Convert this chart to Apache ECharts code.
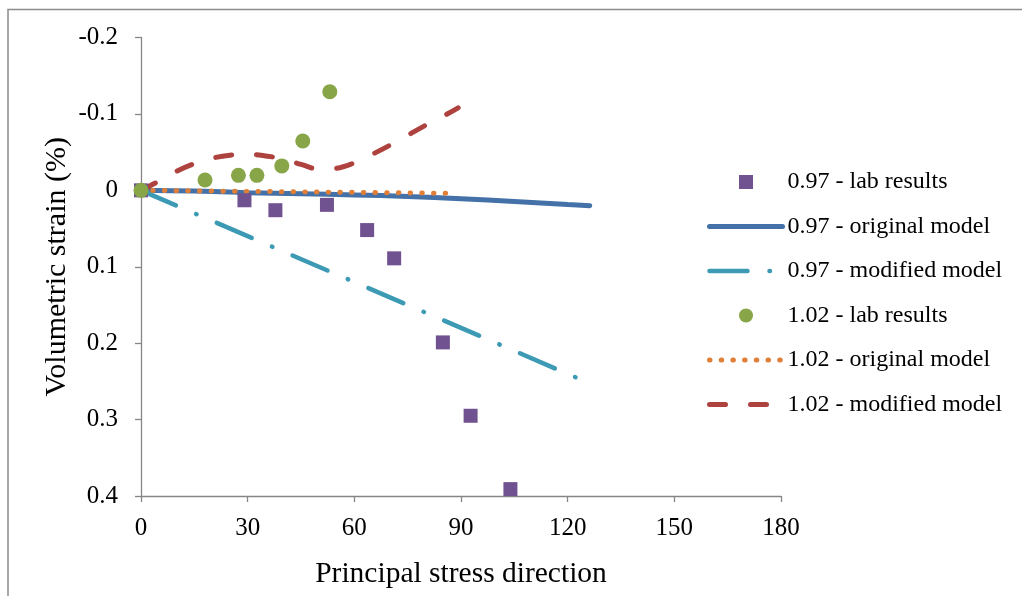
<!DOCTYPE html>
<html>
<head>
<meta charset="utf-8">
<script src="https://cdn.jsdelivr.net/npm/echarts@6/dist/echarts.min.js"></script>
<style>
  html, body { margin: 0; padding: 0; background: #fff; }
  #chart { width: 1022px; height: 596px; }
</style>
</head>
<body>
<div id="chart"></div>
<script>
// Principal stress direction (deg) vs volumetric strain (%)
const xTicks = [0, 30, 60, 90, 120, 150, 180];
const yTicks = [-0.2, -0.1, 0, 0.1, 0.2, 0.3, 0.4];

// 0.97 - lab results
const lab097 = [[0, 0], [29.1, 0.013], [37.8, 0.026], [52.3, 0.019], [63.6, 0.052],
  [71.2, 0.089], [84.9, 0.199], [92.7, 0.295], [103.9, 0.391]];
// 0.97 - original model
const orig097 = [[0, 0], [15, 0.001], [30, 0.003], [45, 0.0045], [60, 0.006], [75, 0.008],
  [90, 0.011], [105, 0.0145], [120, 0.0185], [126.2, 0.0201]];
// 0.97 - modified model
const mod097 = [[0, 0], [30, 0.06], [60, 0.12], [90, 0.18], [122.4, 0.245]];
// 1.02 - lab results
const lab102 = [[0, 0], [18.0, -0.0135], [27.4, -0.0196], [32.6, -0.0196], [39.6, -0.032],
  [45.5, -0.0645], [53.1, -0.129]];
// 1.02 - original model
const orig102 = [[0, 0], [15, 0.0007], [30, 0.0014], [45, 0.002], [60, 0.0027], [75, 0.0034],
  [88.8, 0.004]];
// 1.02 - modified model
const mod102 = [[0, 0], [5, -0.012], [10, -0.025], [15, -0.035], [20, -0.042], [25, -0.046],
  [30, -0.047], [35, -0.045], [40, -0.041], [45, -0.034], [50, -0.028], [55, -0.029],
  [60, -0.036], [65, -0.047], [70, -0.059], [75, -0.072], [80, -0.085], [85, -0.097],
  [89.2, -0.108]];

const names = ['0.97 - lab results', '0.97 - original model', '0.97 - modified model',
  '1.02 - lab results', '1.02 - original model', '1.02 - modified model'];

const FONT = '"Liberation Serif", "Times New Roman", serif';
const AXIS_COLOR = '#868686';

// Legend key for the square markers: a 14x14 square centred in the 73px key slot
const squareKey = 'path://M0,0M73,14M29.5,0h14v14h-14z';

const chart = echarts.init(document.getElementById('chart'), null, { renderer: 'canvas' });

chart.setOption({
  backgroundColor: '#fff',
  animation: false,
  textStyle: { fontFamily: FONT, color: '#000' },
  graphic: [{
    type: 'rect',
    shape: { x: 8, y: 9.5, width: 1030, height: 600 },
    style: { fill: 'none', stroke: '#8c8c8c', lineWidth: 1.5 },
    silent: true, z: -1
  }],
  grid: { left: 141, top: 37.5, right: 241, bottom: 100, containLabel: false },
  legend: {
    orient: 'vertical',
    left: 707, top: 170,
    padding: 0,
    itemWidth: 73, itemHeight: 14,
    itemGap: 20.5,
    lineStyle: { width: 'inherit' },
    textStyle: { fontFamily: FONT, fontSize: 24, color: '#000' },
    data: [
      { name: names[0], icon: squareKey },
      { name: names[1] },
      { name: names[2] },
      { name: names[3], icon: 'circle' },
      { name: names[4] },
      { name: names[5] }
    ]
  },
  xAxis: {
    type: 'value', min: 0, max: 180, interval: 30,
    name: 'Principal stress direction', nameLocation: 'middle', nameGap: 63,
    nameMoveOverlap: false,
    nameTextStyle: { fontFamily: FONT, fontSize: 29.5, color: '#000' },
    axisLine: { show: true, onZero: false, lineStyle: { color: AXIS_COLOR, width: 1.3 } },
    axisTick: { show: true, length: 6, lineStyle: { color: AXIS_COLOR, width: 1.3 } },
    axisLabel: { fontFamily: FONT, fontSize: 25, color: '#000', margin: 20,
      formatter: v => xTicks.includes(v) ? String(v) : '' },
    splitLine: { show: false }
  },
  yAxis: {
    type: 'value', min: -0.2, max: 0.4, interval: 0.1, inverse: true,
    name: 'Volumetric strain (%)', nameLocation: 'middle', nameGap: 69,
    nameMoveOverlap: false,
    nameTextStyle: { fontFamily: FONT, fontSize: 30, color: '#000' },
    axisLine: { show: true, onZero: false, lineStyle: { color: AXIS_COLOR, width: 1.3 } },
    axisTick: { show: true, length: 6, lineStyle: { color: AXIS_COLOR, width: 1.3 } },
    axisLabel: { fontFamily: FONT, fontSize: 25, color: '#000', margin: 23,
      formatter: v => {
        const r = Math.round(v * 10) / 10;
        const t = yTicks.find(k => Math.abs(k - r) < 1e-9);
        return t === undefined ? '' : (t === 0 ? '0' : t.toFixed(1));
      } },
    splitLine: { show: false }
  },
  series: [
    {
      name: names[0], type: 'scatter', data: lab097,
      symbol: 'rect', symbolSize: 14,
      itemStyle: { color: '#705290', opacity: 1 },
      z: 5
    },
    {
      name: names[1], type: 'line', data: orig097, symbol: 'none', smooth: 0.3,
      lineStyle: { color: '#4371a8', width: 5, cap: 'round' },
      itemStyle: { color: '#4371a8', opacity: 0 }, z: 3
    },
    {
      name: names[2], type: 'line', data: mod097, symbol: 'none',
      lineStyle: { color: '#3c9ab4', width: 4.5, cap: 'round', type: [38, 22, 0.5, 22] },
      itemStyle: { color: '#3c9ab4', opacity: 0 }, z: 3
    },
    {
      name: names[3], type: 'scatter', data: lab102,
      symbol: 'circle', symbolSize: 15,
      itemStyle: { color: '#88a548', opacity: 1 },
      z: 6
    },
    {
      name: names[4], type: 'line', data: orig102, symbol: 'none',
      lineStyle: { color: '#e07f38', width: 5, cap: 'round', type: [0.5, 11.2] },
      itemStyle: { color: '#e07f38', opacity: 0 }, z: 4
    },
    {
      name: names[5], type: 'line', data: mod102, symbol: 'none', smooth: 0.4,
      lineStyle: { color: '#ae423e', width: 5, cap: 'round', type: [16, 25] },
      itemStyle: { color: '#ae423e', opacity: 0 }, z: 4
    }
  ]
});
</script>
</body>
</html>
